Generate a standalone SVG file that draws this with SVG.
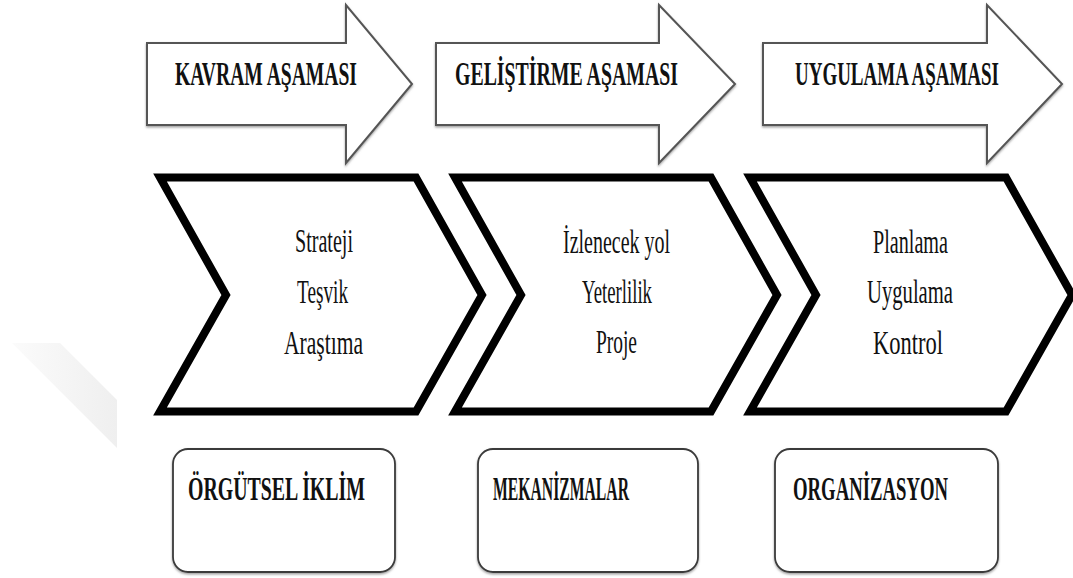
<svg xmlns="http://www.w3.org/2000/svg" width="1073" height="578" viewBox="0 0 1073 578">
<defs>
<style>
.arrow{fill:#fff;stroke:#555;stroke-width:2;stroke-linejoin:miter}
.chev{fill:#fff;stroke:#000;stroke-width:8;stroke-linejoin:miter;stroke-miterlimit:10}
.box{fill:#fff;stroke:#3a3a3a;stroke-width:1.8}
text{font-family:'Liberation Serif','Times New Roman',serif;fill:#111}
.title{font-weight:bold;font-size:33px}
.item{font-size:33px}
</style>
<linearGradient id="wm" x1="0" y1="0" x2="1" y2="0">
<stop offset="0" stop-color="#fbfbfb"/>
<stop offset="1" stop-color="#efefef"/>
</linearGradient>
<filter id="sh" x="-10%" y="-10%" width="120%" height="130%">
<feDropShadow dx="0" dy="1.5" stdDeviation="1.2" flood-color="#777" flood-opacity="0.7"/>
</filter>
</defs>
<rect width="1073" height="578" fill="#fff"/>
<polygon points="12,343 60,343 117,400 117,448" fill="url(#wm)"/>

<g id="connectors"></g>

<g id="phase1">
<path class="arrow" filter="url(#sh)" d="M147,43 H346 V5 L412,84 L346,163 V125 H147 Z"/>
<text class="title" x="175" y="85" textLength="182" lengthAdjust="spacingAndGlyphs">KAVRAM AŞAMASI</text>
</g>
<g id="phase2">
<path class="arrow" filter="url(#sh)" d="M436,43 H659 V5 L735,84 L659,163 V125 H436 Z"/>
<text class="title" x="455" y="85" textLength="223" lengthAdjust="spacingAndGlyphs">GELİŞTİRME AŞAMASI</text>
</g>
<g id="phase3">
<path class="arrow" filter="url(#sh)" d="M763,43 H987 V5 L1062,84 L987,163 V125 H763 Z"/>
<text class="title" x="795" y="85" textLength="204" lengthAdjust="spacingAndGlyphs">UYGULAMA AŞAMASI</text>
</g>

<g id="chevron1">
<polygon class="chev" points="160,177.5 416,177.5 482,295 416,411.5 160,411.5 226,295"/>
<text class="item" x="295" y="252" textLength="58" lengthAdjust="spacingAndGlyphs">Strateji</text>
<text class="item" x="297" y="303" textLength="51" lengthAdjust="spacingAndGlyphs">Teşvik</text>
<text class="item" x="284" y="354" textLength="79" lengthAdjust="spacingAndGlyphs">Araştıma</text>
</g>
<g id="chevron2">
<polygon class="chev" points="455,177.5 711,177.5 777,295 711,411.5 455,411.5 521,295"/>
<text class="item" x="563" y="253" textLength="107" lengthAdjust="spacingAndGlyphs">İzlenecek yol</text>
<text class="item" x="582" y="303" textLength="70" lengthAdjust="spacingAndGlyphs">Yeterlilik</text>
<text class="item" x="596" y="353" textLength="41" lengthAdjust="spacingAndGlyphs">Proje</text>
</g>
<g id="chevron3">
<polygon class="chev" points="750,177.5 1006,177.5 1072,295 1006,411.5 750,411.5 816,295"/>
<text class="item" x="873" y="253" textLength="75" lengthAdjust="spacingAndGlyphs">Planlama</text>
<text class="item" x="867" y="303" textLength="86" lengthAdjust="spacingAndGlyphs">Uygulama</text>
<text class="item" x="873" y="354" textLength="70" lengthAdjust="spacingAndGlyphs">Kontrol</text>
</g>

<g id="box1">
<rect class="box" filter="url(#sh)" x="173" y="449" width="222" height="123" rx="15" ry="15"/>
<text class="title" x="188" y="500" textLength="177" lengthAdjust="spacingAndGlyphs">ÖRGÜTSEL İKLİM</text>
</g>
<g id="box2">
<rect class="box" filter="url(#sh)" x="478" y="449" width="220" height="123" rx="15" ry="15"/>
<text class="title" x="493" y="500" textLength="136" lengthAdjust="spacingAndGlyphs">MEKANİZMALAR</text>
</g>
<g id="box3">
<rect class="box" filter="url(#sh)" x="775" y="449" width="223" height="123" rx="15" ry="15"/>
<text class="title" x="793" y="500" textLength="155" lengthAdjust="spacingAndGlyphs">ORGANİZASYON</text>
</g>
</svg>
